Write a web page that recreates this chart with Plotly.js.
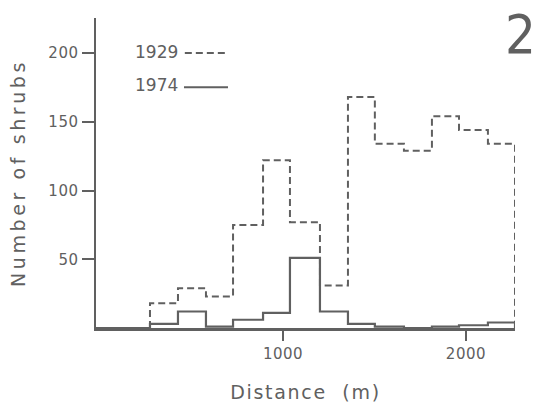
<!DOCTYPE html>
<html>
<head>
<meta charset="utf-8">
<script src="https://cdn.plot.ly/plotly-3.0.1.min.js"></script>
<style>
  html, body { margin: 0; padding: 0; background: #fff; }
  #chart { width: 537px; height: 410px; }
  .xtick text, .ytick text { letter-spacing: 0.5px; }
  .xtitle { letter-spacing: 1.7px; }
  .ytitle { letter-spacing: 3.6px; }
</style>
</head>
<body>
<div id="chart"></div>
<script>
// Bin edges (distance, m)
const binEdges = [273, 426, 579, 727, 891, 1038, 1202, 1355, 1502, 1661, 1814, 1962, 2120, 2268];
// Number of shrubs per bin
const shrubs1929 = [18, 29, 23, 75, 122, 77, 31, 168, 134, 129, 154, 144, 134];
const shrubs1974 = [3, 12, 1, 6, 11, 51, 12, 3, 1, 0, 1, 2, 4];
const seriesNames = ['1929', '1974'];
const xTickVals = [1000, 2000];
const yTickVals = [50, 100, 150, 200];

function stepPath(edges, counts, startX) {
  const x = [], y = [];
  if (startX !== undefined) { x.push(startX); y.push(0); }
  x.push(edges[0]); y.push(0);
  for (let i = 0; i < counts.length; i++) { x.push(edges[i]); y.push(counts[i]); }
  x.push(edges[edges.length - 1]); y.push(counts[counts.length - 1]);
  x.push(edges[edges.length - 1]); y.push(0);
  return { x, y };
}

const ink = '#606060';
const FONT = 'DejaVu Sans, sans-serif';

const p1929 = stepPath(binEdges, shrubs1929);
const p1974 = stepPath(binEdges, shrubs1974, -22);

const traces = [
  { x: p1929.x, y: p1929.y, name: seriesNames[0], type: 'scatter', mode: 'lines',
    line: { shape: 'hv', color: ink, width: 2, dash: '7px,4px' }, hoverinfo: 'skip' },
  { x: p1974.x, y: p1974.y, name: seriesNames[1], type: 'scatter', mode: 'lines',
    line: { shape: 'hv', color: ink, width: 2.2 }, hoverinfo: 'skip' }
];

const layout = {
  width: 537, height: 410,
  margin: { l: 96, r: 22, t: 18, b: 82 },
  paper_bgcolor: '#fff', plot_bgcolor: '#fff',
  showlegend: false,
  font: { family: FONT, color: ink, size: 16 },
  xaxis: {
    range: [-22, 2268], showgrid: false, zeroline: false,
    showline: true, linecolor: ink, linewidth: 2.5,
    ticks: 'outside', ticklen: 10, tickwidth: 2, tickcolor: ink,
    tickvals: xTickVals, ticktext: xTickVals.map(String),
    tickfont: { family: FONT, size: 15, color: ink },
    title: { text: 'Distance\u00a0\u00a0(m)', standoff: 24,
             font: { family: FONT, size: 19, color: ink } }
  },
  yaxis: {
    range: [0, 225.5], showgrid: false, zeroline: false,
    showline: true, linecolor: ink, linewidth: 2.5,
    ticks: 'outside', ticklen: 12, tickwidth: 2, tickcolor: ink,
    tickvals: yTickVals, ticktext: yTickVals.map(String),
    tickfont: { family: FONT, size: 15, color: ink },
    title: { text: 'Number of shrubs', standoff: 18,
             font: { family: FONT, size: 19, color: ink } }
  },
  annotations: [
    { xref: 'paper', yref: 'paper', x: 0.2005, y: 0.890, xanchor: 'right', yanchor: 'middle',
      text: seriesNames[0], showarrow: false, font: { family: FONT, size: 17, color: ink } },
    { xref: 'paper', yref: 'paper', x: 0.2005, y: 0.785, xanchor: 'right', yanchor: 'middle',
      text: seriesNames[1], showarrow: false, font: { family: FONT, size: 17, color: ink } },
    { xref: 'paper', yref: 'paper', x: 1.012, y: 0.947, xanchor: 'center', yanchor: 'middle',
      text: '2', showarrow: false,
      font: { family: 'Liberation Sans Narrow, DejaVu Sans Condensed, sans-serif', size: 54, color: ink, weight: 300 } }
  ],
  shapes: [
    { type: 'line', xref: 'paper', yref: 'paper', x0: 0.212, x1: 0.315, y0: 0.887, y1: 0.887,
      line: { color: ink, width: 2, dash: '7px,4px' } },
    { type: 'line', xref: 'paper', yref: 'paper', x0: 0.210, x1: 0.315, y0: 0.777, y1: 0.777,
      line: { color: ink, width: 2 } }
  ]
};

Plotly.newPlot('chart', traces, layout, { staticPlot: true, displayModeBar: false });
</script>
</body>
</html>
